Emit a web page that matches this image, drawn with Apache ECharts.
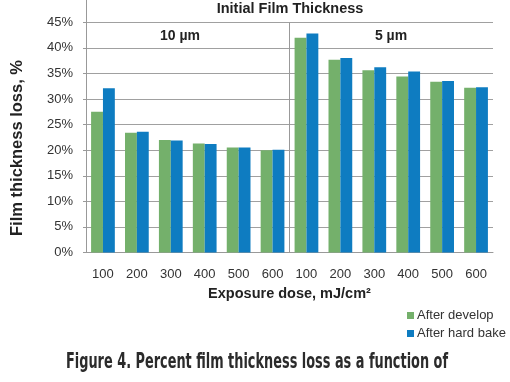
<!DOCTYPE html>
<html>
<head>
<meta charset="utf-8">
<script src="https://cdn.jsdelivr.net/npm/echarts@6/dist/echarts.min.js"></script>
<style>html,body{margin:0;padding:0;background:#fff;}#c{width:510px;height:382px;}</style>
</head>
<body>
<div id="c"></div>
<script>
var categories = ['100','200','300','400','500','600','100','200','300','400','500','600'];
var afterDevelop = [27.5, 23.4, 22.0, 21.3, 20.5, 20.0, 42.0, 37.7, 35.6, 34.4, 33.4, 32.2];
var afterHardBake = [32.1, 23.6, 21.9, 21.2, 20.5, 20.1, 42.8, 38.0, 36.2, 35.4, 33.5, 32.3];
var groupLabels = ['10 µm', '5 µm'];
var dividerLine = [[6, 0], [6, 45]];
var captionText = 'Figure 4. Percent film thickness loss as a function of';

var FONT = '"Liberation Sans", Arial, sans-serif';
var CAP_FONT = 'bold 21px "Liberation Sans Narrow", "DejaVu Sans Condensed", "Liberation Sans", sans-serif';
var mctx = document.createElement('canvas').getContext('2d');
mctx.font = CAP_FONT;
var capScale = 382 / mctx.measureText(captionText).width;

var chart = echarts.init(document.getElementById('c'), null, {renderer: 'canvas'});
chart.setOption({
  animation: false,
  backgroundColor: '#ffffff',
  textStyle: {fontFamily: FONT},
  grid: {left: 86, right: 17, top: -3.3, bottom: 129.5, containLabel: false, outerBoundsMode: 'none'},
  legend: {
    orient: 'vertical', left: 402, top: 304, itemWidth: 7, itemHeight: 7, itemGap: 5,
    icon: 'rect',
    textStyle: {fontSize: 13, color: '#333', fontFamily: FONT, padding: [0, 0, 0, -2]},
    data: ['After develop', 'After hard bake']
  },
  xAxis: [{
    type: 'category', data: categories,
    axisLine: {lineStyle: {color: '#999', width: 1}},
    axisTick: {show: false},
    axisLabel: {fontSize: 13, color: '#333', margin: 15, fontFamily: FONT},
    name: 'Exposure dose, mJ/cm²', nameLocation: 'middle', nameGap: 34,
    nameTextStyle: {fontSize: 14.5, fontWeight: 'bold', color: '#222', fontFamily: FONT}
  }, {
    type: 'value', min: 0, max: 12, show: false
  }],
  yAxis: {
    type: 'value', min: 0, max: 50, interval: 5,
    axisLine: {show: true, lineStyle: {color: '#999', width: 1}},
    axisTick: {show: true, length: 3, lineStyle: {color: '#999'}},
    splitLine: {lineStyle: {color: '#a0a0a0', width: 1}},
    axisLabel: {formatter: '{value}%', fontSize: 13, color: '#333', margin: 13, fontFamily: FONT, showMaxLabel: true, showMinLabel: true}
  },
  series: [{
    name: 'After develop', type: 'bar', data: afterDevelop,
    barCategoryGap: '30%', barGap: '0%',
    itemStyle: {color: '#74b06b'}
  }, {
    name: 'After hard bake', type: 'bar', data: afterHardBake,
    barCategoryGap: '30%', barGap: '0%',
    itemStyle: {color: '#0e7cc1'}
  }, {
    name: 'divider', type: 'line', xAxisIndex: 1, data: dividerLine,
    symbol: 'none', lineStyle: {color: '#999', width: 1}, silent: true
  }],
  graphic: [
    {type: 'text', x: 290, y: 9, style: {text: 'Initial Film Thickness', font: 'bold 14.5px ' + FONT, fill: '#222', align: 'center', verticalAlign: 'middle'}},
    {type: 'text', x: 180, y: 36, style: {text: groupLabels[0], font: 'bold 14px ' + FONT, fill: '#222', align: 'center', verticalAlign: 'middle'}},
    {type: 'text', x: 391, y: 36, style: {text: groupLabels[1], font: 'bold 14px ' + FONT, fill: '#222', align: 'center', verticalAlign: 'middle'}},
    {type: 'text', x: 17, y: 148, rotation: Math.PI / 2, style: {text: 'Film thickness loss, %', font: 'bold 16.5px ' + FONT, fill: '#222', align: 'center', verticalAlign: 'middle'}},
    {type: 'text', x: 66, y: 363, scaleX: capScale, style: {text: captionText, font: CAP_FONT, fill: '#2b2b2b', align: 'left', verticalAlign: 'middle'}}
  ]
});
</script>
</body>
</html>
